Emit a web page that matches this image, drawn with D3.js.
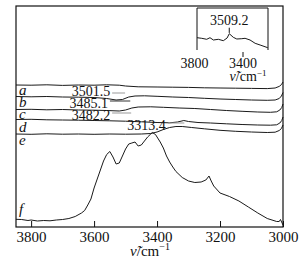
<!DOCTYPE html>
<html><head><meta charset="utf-8">
<script src="https://cdn.jsdelivr.net/npm/d3@7"></script>
<style>
body{margin:0;background:#fff}
svg, svg text{font-family:"Liberation Serif","Times New Roman",Times,"DejaVu Serif",serif !important;fill:#111}
</style>
</head><body><svg id="c" width="300" height="265"></svg>
<script>
// ---- data (wavenumber cm^-1, intensity a.u. with vertical offsets) ----
const xTicks = [3800, 3600, 3400, 3200, 3000];
const curveLabels = ["a", "b", "c", "d", "e", "f"];

const aWn = [3848,3800,3750,3700,3650,3600,3560,3520,3500,3460,3400,3350,3300,3250,3200,3150,3100,3050,3025,3012,3005,3000];
const aVal = [71,70.9,71.1,70.8,71,70.9,71.1,70.9,70.5,70.1,70,69.9,69.8,69.6,69.5,69.4,69.3,69.2,69.5,70.3,71.2,72.5];

const bWn = [3848,3800,3750,3700,3650,3600,3560,3530,3510,3490,3470,3440,3400,3350,3300,3250,3200,3150,3100,3050,3025,3012,3005,3000];
const bVal = [65.25,65.1,65.25,65,64.9,64.75,64.25,63.5,63.75,65,65.5,65.6,65.35,65,64.75,64.35,64,63.75,63.5,63.35,63.5,64.25,65.5,67.25];

const cWn = [3848,3800,3750,3700,3650,3600,3560,3520,3500,3480,3460,3420,3380,3330,3280,3230,3180,3130,3080,3040,3020,3010,3004,3000];
const cVal = [58.75,58.85,58.6,58.75,58.5,58.4,58.25,58,58.5,59.5,60,60.1,59.85,59.5,59.25,58.75,58.25,57.85,57.5,57.35,57.6,58.5,59.75,61.5];

const dWn = [3848,3800,3750,3700,3650,3600,3550,3500,3450,3400,3360,3335,3315,3300,3270,3230,3180,3130,3080,3040,3020,3010,3004,3000];
const dVal = [53.75,53.85,53.6,53.5,53.4,53.25,53.1,52.9,52.6,52.25,52.1,52.5,53.25,52.75,52.25,52,51.6,51.25,51,50.9,51.1,52,53.25,55];

const eWn = [3848,3800,3750,3700,3650,3600,3550,3500,3450,3420,3400,3380,3360,3340,3320,3290,3250,3200,3150,3100,3050,3025,3012,3005,3000];
const eVal = [46.5,46.35,46.6,46.4,46.5,46.35,46.5,46.4,46.5,46.75,47.5,48.75,49.75,50.25,50.25,49.75,49.1,48.35,47.85,47.5,47.25,47.4,48.25,49.25,51];

const fWn = [3848,3830,3810,3800,3780,3760,3740,3720,3700,3680,3660,3640,3630,3620,3610,3600,3590,3580,3570,3560,3550,3540,3530,3520,3510,3500,3490,3480,3470,3460,3450,3440,3430,3420,3415,3405,3390,3380,3370,3360,3350,3340,3320,3300,3280,3260,3245,3235,3228,3220,3200,3170,3140,3110,3080,3050,3020,3012,3008,3000];
const fVal = [3.85,3.75,3.25,3.5,3,3.25,3.1,3.5,3.75,4.25,5.25,7,8.25,11,14,19.5,24,28.5,33,36.25,37.75,35,31.5,32,35.5,39,41.5,42,42.5,40.5,41,43,45,46.5,47.25,46.25,42.5,39.5,35.5,32.5,30,27.75,24.75,23,22.25,22.5,23.5,25.5,23,20.5,17,15.25,13,10,7,4.25,2.75,2.75,3.75,1];

// peak annotations
const peakText = ["3501.5", "3485.1", "3482.2", "3313.4"];
const peakWn = [3501.5, 3485.1, 3482.2, 3313.4];
const peakTextEndWn = [3549, 3556, 3549, 3372];
const peakTextVal = [65.5, 59.5, 53.5, 48.5];
const peakLeaderVal = [67, 63, 57, 52];
const peakLeaderColor = ["#999", "#333", "#999", "#999"];

// inset (curve a, expanded)
const insetWn = [3775,3736,3695,3668,3640,3599,3558,3527,3509,3476,3447,3406,3379,3338,3296,3255,3192];
const insetVal = [12.3,11.7,10.7,12.3,10,10.7,9.3,12,16.3,12.7,11,11.3,11.7,10,6.7,5,2.3];
const insetTicks = [3800, 3400];
const insetPeak = 3509.2;

// ---- drawing ----
const FONT = '"Liberation Serif","Times New Roman",Times,"DejaVu Serif",serif';
const svg = d3.select("#c");
const L = 16, R = 283, T = 6, B = 227;
const x = d3.scaleLinear().domain([3848, 3000]).range([L, R]);
const y = d3.scaleLinear().domain([0, 110.5]).range([B, T]);
const line = d3.line().x(d => x(d[0])).y(d => y(d[1]));

const series = [[aWn,aVal],[bWn,bVal],[cWn,cVal],[dWn,dVal],[eWn,eVal],[fWn,fVal]];
series.forEach(([w, v]) => {
  svg.append("path")
    .attr("d", line(w.map((d, i) => [d, v[i]])))
    .attr("fill", "none").attr("stroke", "#1a1a1a").attr("stroke-width", 1)
    .attr("stroke-linejoin", "round");
});

function txt(sel) { return sel.style("font-family", FONT).attr("fill", "#111"); }

// curve letter labels
const labelBase = [95, 107, 119, 132, 145, 214];
curveLabels.forEach((t, i) => {
  txt(svg.append("text")).attr("x", 19).attr("y", labelBase[i])
    .attr("font-size", 15).attr("font-style", "italic").text(t);
});

// peak annotations
peakText.forEach((t, i) => {
  txt(svg.append("text")).attr("x", x(peakTextEndWn[i])).attr("y", y(peakTextVal[i]))
    .attr("text-anchor", "end").attr("font-size", 14).text(t);
  svg.append("line")
    .attr("x1", x(peakTextEndWn[i]) + 2).attr("x2", x(peakWn[i]))
    .attr("y1", y(peakLeaderVal[i])).attr("y2", y(peakLeaderVal[i]))
    .attr("stroke", peakLeaderColor[i]).attr("stroke-width", 1);
});

// frame
svg.append("rect").attr("x", L).attr("y", T).attr("width", R - L).attr("height", B - T)
  .attr("fill", "none").attr("stroke", "#111").attr("stroke-width", 1.2);

// bottom axis
const ax = svg.append("g").attr("transform", `translate(0,${B})`)
  .call(d3.axisBottom(x).tickValues(xTicks).tickSizeInner(-6).tickSizeOuter(0).tickPadding(4.4).tickFormat(d3.format("d")));
ax.attr("font-family", FONT);
ax.select(".domain").remove();
ax.selectAll("line").attr("stroke", "#111");
txt(ax.selectAll("text")).attr("font-size", 15);

const xt = txt(svg.append("text")).attr("x", 150).attr("y", 256).attr("text-anchor", "middle").attr("font-size", 15);
xt.append("tspan").attr("font-style", "italic").text("ν\u0303");
xt.append("tspan").text("/cm");
xt.append("tspan").attr("font-size", 10).attr("dy", -6).text("−1");

// inset
const ix = d3.scaleLinear().domain([3775, 3190]).range([197, 268]);
const iy = d3.scaleLinear().domain([0, 42]).range([50, 8]);
svg.append("path").attr("d", "M197,50V8H268V50").attr("fill", "none").attr("stroke", "#111").attr("stroke-width", 1);
svg.append("path")
  .attr("d", d3.line().x(d => ix(d[0])).y(d => iy(d[1]))(insetWn.map((d, i) => [d, insetVal[i]])))
  .attr("fill", "none").attr("stroke", "#1a1a1a").attr("stroke-width", 1);
const pk = insetVal[insetWn.indexOf(3509)];
svg.append("line").attr("x1", ix(insetPeak)).attr("x2", ix(insetPeak))
  .attr("y1", iy(pk + 0.8)).attr("y2", iy(pk + 6)).attr("stroke", "#111");
txt(svg.append("text")).attr("x", ix(insetPeak)).attr("y", iy(pk + 8.5)).attr("text-anchor", "middle")
  .attr("font-size", 14).text("3509.2");
const iax = svg.append("g").attr("transform", "translate(0,57)")
  .call(d3.axisBottom(ix).tickValues(insetTicks).tickSizeInner(-5).tickSizeOuter(0).tickPadding(1.5).tickFormat(d3.format("d")));
iax.attr("font-family", FONT);
iax.select(".domain").remove();
iax.selectAll("line").attr("stroke", d => d === 3400 ? "#111" : "none");
txt(iax.selectAll("text")).attr("font-size", 14);
const it = txt(svg.append("text")).attr("x", 248).attr("y", 81).attr("text-anchor", "middle").attr("font-size", 14);
it.append("tspan").attr("font-style", "italic").text("ν\u0303");
it.append("tspan").text("/cm");
it.append("tspan").attr("font-size", 9).attr("dy", -5).text("−1");
</script>
</body></html>
